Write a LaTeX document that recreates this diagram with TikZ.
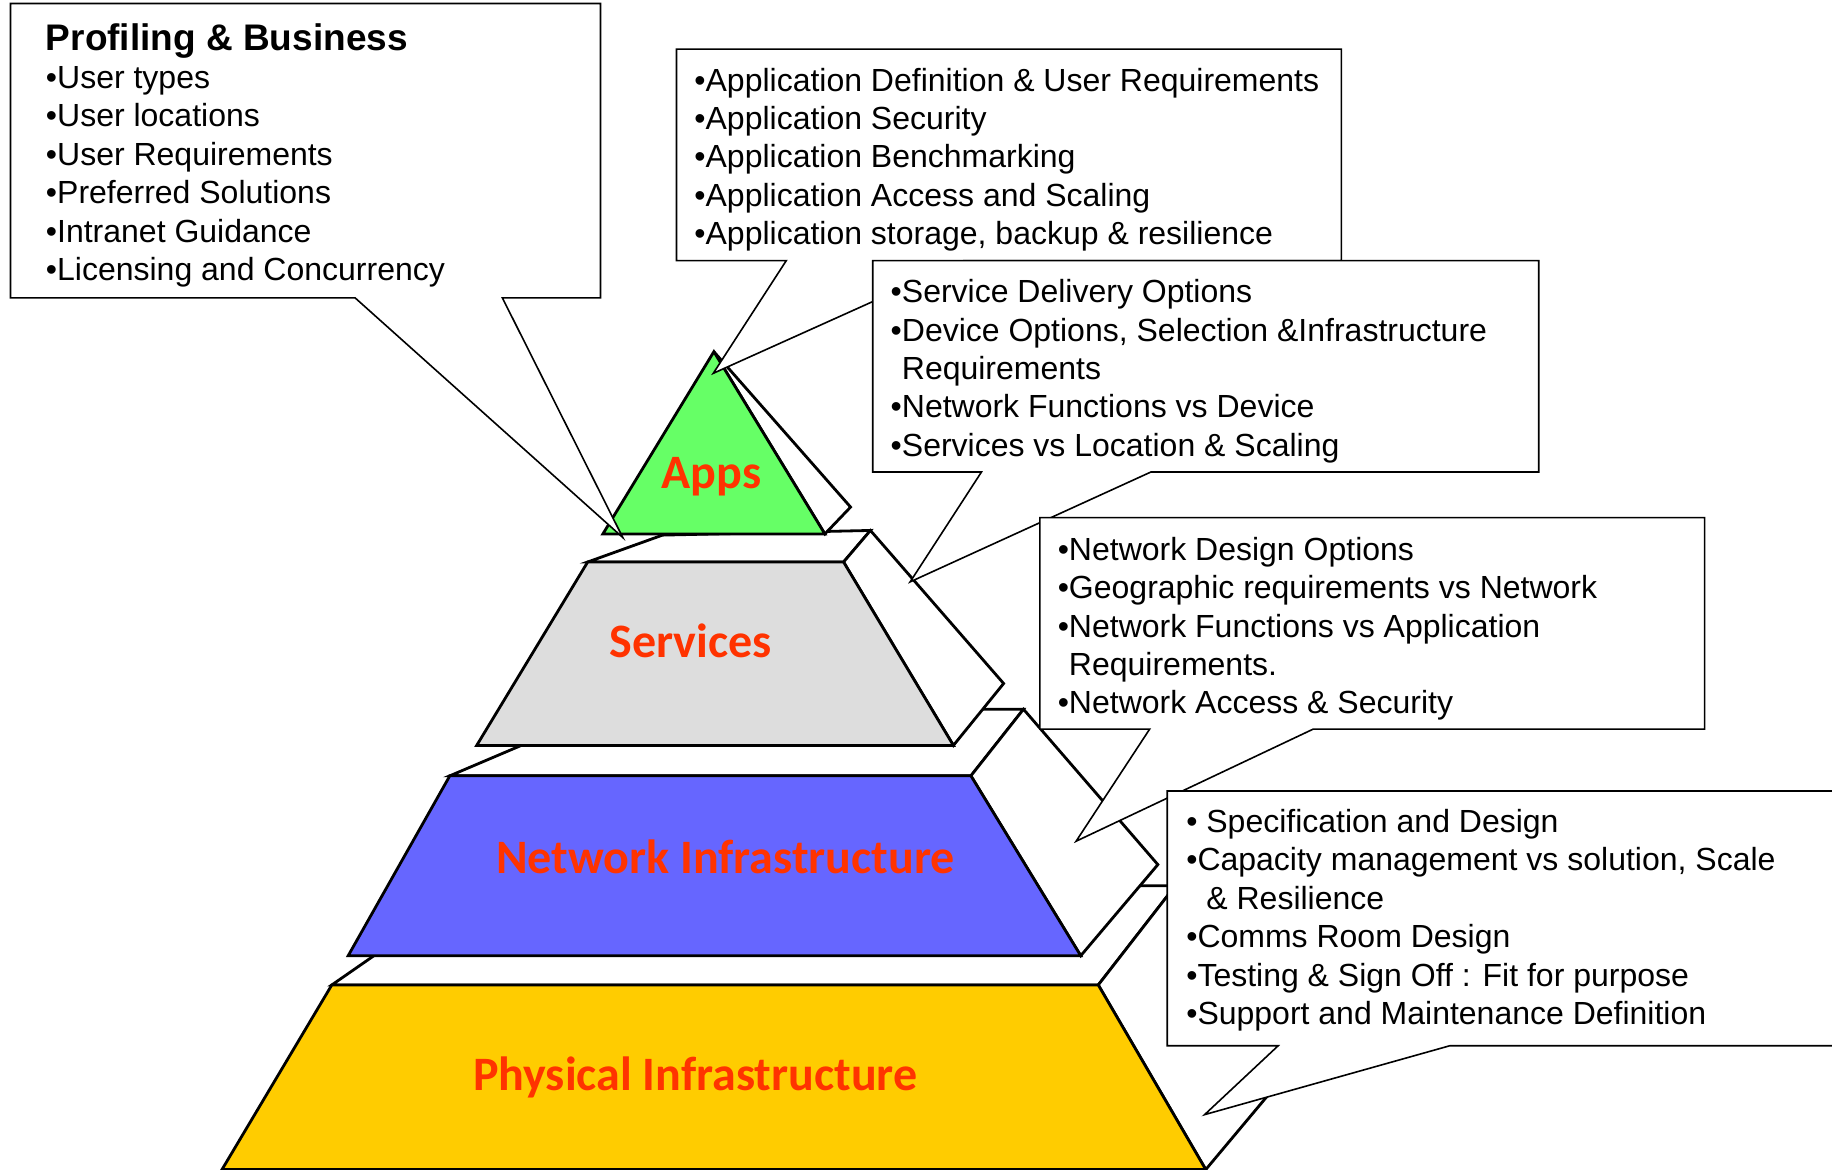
\documentclass[tikz,border=0pt]{standalone}
\usepackage{fontspec}
\setmainfont{Liberation Sans}
\newfontfamily\layerfont{Carlito}
\definecolor{appsgreen}{RGB}{102,255,102}
\definecolor{servicesgray}{RGB}{221,221,221}
\definecolor{networkblue}{RGB}{102,102,255}
\definecolor{physicalyellow}{RGB}{255,204,0}
\definecolor{layerred}{RGB}{255,51,0}
\tikzstyle{face}=[draw=black,line width=1.4pt,fill=white]
\tikzstyle{callout}=[draw=black,line width=0.8pt,fill=white]
\tikzstyle{note}=[anchor=north west,inner sep=0pt,align=left,font=\fontsize{16}{19.2}\selectfont]
\tikzstyle{layername}=[anchor=base,text=layerred,font=\layerfont\bfseries\fontsize{24}{28}\selectfont]

\begin{document}
\begin{tikzpicture}[x=0.5842pt,y=-0.5842pt]
    \useasboundingbox (0,0) rectangle (1568,1001);

    \draw[face] (284,843) -- (405,759) -- (1006,758) -- (940,843) -- cycle;
    \draw[face] (940,843) -- (1006,758) -- (1130,884) -- (1032,1001) -- cycle;
    \draw[face,fill=physicalyellow] (284,843) -- (940,843) -- (1032,1001) -- (190,1001) -- cycle;

    \draw[face] (385,664) -- (519,607) -- (876,607) -- (831,664) -- cycle;
    \draw[face] (831,664) -- (876,607) -- (991,740) -- (925,818) -- cycle;
    \draw[face,fill=networkblue] (385,664) -- (831,664) -- (925,818) -- (298,818) -- cycle;

    \draw[face] (503,481) -- (567,458) -- (745,454) -- (722,481) -- cycle;
    \draw[face] (722,481) -- (745,454) -- (859,585) -- (816,638) -- cycle;
    \draw[face,fill=servicesgray] (503,481) -- (722,481) -- (816,638) -- (408,638) -- cycle;

    \draw[face] (611,301) -- (728,434) -- (706,457) -- cycle;
    \draw[face,fill=appsgreen] (611,301) -- (706,457) -- (516,457) -- cycle;

    \node[layername] (appslabel) at (609,418) {Apps};
    \node[layername] (serviceslabel) at (591,563) {Services};
    \node[layername] (networklabel) at (621,748) {Network Infrastructure};
    \node[layername] (physicallabel) at (595,933) {Physical Infrastructure};

    \coordinate (profilingtip) at (533,460);
    \coordinate (appstip) at (610.5,319.5);
    \coordinate (servicestip) at (779,498);
    \coordinate (networktip) at (921,720);
    \coordinate (physicaltip) at (1031,954);

    \draw[callout] (9,3) -- (514,3) -- (514,255) -- (430,255) -- (profilingtip) -- (304,255) -- (9,255) -- cycle;
    \node[note] (profilingnote) at (39,19.5) {\strut{\bfseries\fontsize{18.5}{19.2}\selectfont Profiling \& Business}\\
        •User types\\•User locations\\•User Requirements\\•Preferred Solutions\\•Intranet Guidance\\•Licensing and Concurrency};

    \draw[callout] (579,42) -- (1148,42) -- (1148,223) -- (825,223) -- (appstip) -- (673,223) -- (579,223) -- cycle;
    \node[note] (appsnote) at (594,54.7) {\strut•Application Definition \& User Requirements\\•Application Security\\
        •Application Benchmarking\\•Application Access and Scaling\\•Application storage, backup \& resilience};

    \draw[callout] (747,223) -- (1317,223) -- (1317,404) -- (985,404) -- (servicestip) -- (840,404) -- (747,404) -- cycle;
    \node[note] (servicesnote) at (762,235.7) {\strut•Service Delivery Options\\•Device Options, Selection \&Infrastructure\\
        \phantom{•}Requirements\\•Network Functions vs Device\\•Services vs Location \& Scaling};

    \draw[callout] (890,443) -- (1459,443) -- (1459,624) -- (1124,624) -- (networktip) -- (984,624) -- (890,624) -- cycle;
    \node[note] (networknote) at (905,456.2) {\strut•Network Design Options\\•Geographic requirements vs Network\\
        •Network Functions vs Application\\\phantom{•}Requirements.\\•Network Access \& Security};

    \draw[callout] (999,677) -- (1590,677) -- (1590,895) -- (1241,895) -- (physicaltip) -- (1094,895) -- (999,895) -- cycle;
    \node[note] (physicalnote) at (1015,689.2) {\strut• Specification and Design\\•Capacity management vs solution, Scale\\
        \phantom{•}\ \& Resilience\\•Comms Room Design\\•Testing \& Sign Off : Fit for purpose\\•Support and Maintenance Definition};
\end{tikzpicture}
\end{document}
